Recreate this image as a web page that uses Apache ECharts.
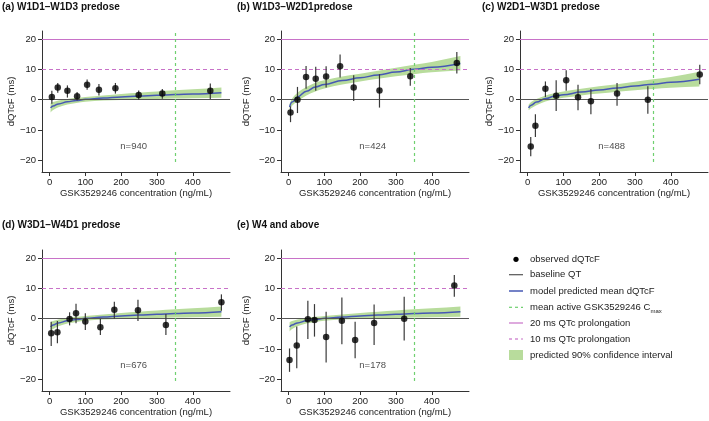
<!DOCTYPE html>
<html>
<head>
<meta charset="utf-8">
<script src="https://cdn.jsdelivr.net/npm/echarts@6/dist/echarts.min.js"></script>
<style>
  html, body { margin: 0; padding: 0; background: #fff; }
  #main { width: 709px; height: 421px; }
</style>
</head>
<body>
<div id="main"></div>
<script>
// titles / labels
var panelTitles = ['(a) W1D1–W1D3 predose', '(b) W1D3–W2D1predose', '(c) W2D1–W3D1 predose',
  '(d) W3D1–W4D1 predose', '(e) W4 and above'];
var nLabels = ['n=940', 'n=424', 'n=488', 'n=676', 'n=178'];
var xTicks = [0, 100, 200, 300, 400];
var yTicks = [-20, -10, 0, 10, 20];

// observed dQTcF (binned): concentration, mean, 90% CI low / high
var obsConcA = [6.5, 23, 50, 77, 105, 138, 184, 249, 315, 449];
var obsMeanA = [0.9, 4.0, 2.9, 1.1, 4.9, 3.3, 3.8, 1.5, 2.0, 2.9];
var obsLowA  = [-1.3, 2.3, 0.7, -0.3, 3.3, 1.4, 2.0, -0.1, 0.3, 0.1];
var obsHighA = [2.9, 5.5, 4.7, 2.5, 6.6, 5.2, 5.5, 3.0, 3.5, 5.3];

var obsConcB = [5.6, 25, 49, 76, 105, 144, 182, 254, 340, 470];
var obsMeanB = [-4.2, 0, 7.5, 6.9, 7.6, 11.0, 4.0, 3.0, 7.7, 12.1];
var obsLowB  = [-7.4, -4.4, 3.6, 2.9, 4.0, 7.3, -0.4, -2.6, 4.6, 8.6];
var obsHighB = [-2.2, 4.2, 11.1, 10.8, 11.0, 14.9, 8.0, 8.4, 10.4, 15.7];

var obsConcC = [9, 22, 50, 80, 108, 141, 177, 250, 336, 481];
var obsMeanC = [-15.4, -8.6, 3.6, 1.3, 6.4, 0.8, -0.5, 2.0, 0, 8.3];
var obsLowC  = [-18.6, -12.3, 0.9, -3.7, 2.9, -3.5, -4.8, -2.0, -4.6, 5.1];
var obsHighC = [-12.3, -4.8, 6.0, 6.4, 9.7, 4.9, 3.5, 5.5, 4.4, 11.5];

var obsConcD = [4.7, 22, 56, 74, 100, 142, 181, 247, 325, 480];
var obsMeanD = [-4.8, -4.5, -0.1, 1.8, -0.9, -2.8, 2.9, 2.8, -2.1, 5.4];
var obsLowD  = [-9.0, -8.1, -2.2, -1.5, -3.7, -5.4, 0, -0.8, -5.4, 2.6];
var obsHighD = [-1.0, -0.8, 2.1, 4.9, 1.8, -0.1, 5.6, 6.2, 1.5, 8.0];

var obsConcE = [2.8, 23, 54, 72.5, 105, 149, 186, 239, 323, 463];
var obsMeanE = [-13.6, -8.8, -0.2, -0.4, -6.0, -0.65, -7.0, -1.4, 0, 10.9];
var obsLowE  = [-17.5, -16.3, -6.7, -5.9, -14.4, -8.4, -13.0, -8.7, -7.2, 7.2];
var obsHighE = [-9.8, -2.6, 5.9, 4.8, 2.3, 7.0, -1.0, 4.7, 7.2, 14.4];

// model prediction (mean + 90% CI)
var predConc = [3, 10, 25, 50, 75, 100, 150, 200, 250, 300, 350, 400, 480];
// a, d and e show the same curve
var predMeanADE = [-2.7, -2.1, -1.4, -0.7, -0.25, 0.1, 0.55, 0.9, 1.2, 1.45, 1.7, 1.9, 2.3];
var predLowADE  = [-4.2, -3.4, -2.5, -1.6, -1.1, -0.7, -0.3, -0.1, 0.1, 0.2, 0.35, 0.45, 0.6];
var predHighADE = [-1.2, -0.8, -0.3, 0.2, 0.6, 0.9, 1.4, 1.9, 2.3, 2.7, 3.1, 3.4, 4.0];

var predMeanB = [-2.4, -0.8, 0.9, 2.8, 4.2, 5.0, 6.3, 7.2, 8.15, 9.1, 10.0, 10.7, 11.9];
var predLowB  = [-3.4, -2.0, -0.5, 1.4, 2.7, 3.7, 5.0, 6.0, 6.9, 7.7, 8.4, 9.0, 9.6];
var predHighB = [-1.4, 0.4, 2.3, 4.2, 5.6, 6.4, 7.6, 8.5, 9.5, 10.5, 11.5, 12.4, 14.4];

var predMeanC = [-2.7, -1.8, -0.8, 0.35, 1.1, 1.6, 2.5, 3.15, 3.85, 4.5, 5.1, 5.7, 6.7];
var predLowC  = [-3.5, -2.8, -1.8, -0.6, 0.1, 0.6, 1.4, 2.0, 2.6, 3.1, 3.5, 3.9, 4.3];
var predHighC = [-1.7, -0.8, 0.2, 1.4, 2.1, 2.7, 3.6, 4.4, 5.1, 5.9, 6.7, 7.5, 9.2];

var cmaxConc = 350; // mean active Cmax

var panels = [
  { obs: [obsConcA, obsMeanA, obsLowA, obsHighA], pred: [predMeanADE, predLowADE, predHighADE] },
  { obs: [obsConcB, obsMeanB, obsLowB, obsHighB], pred: [predMeanB, predLowB, predHighB] },
  { obs: [obsConcC, obsMeanC, obsLowC, obsHighC], pred: [predMeanC, predLowC, predHighC] },
  { obs: [obsConcD, obsMeanD, obsLowD, obsHighD], pred: [predMeanADE, predLowADE, predHighADE] },
  { obs: [obsConcE, obsMeanE, obsLowE, obsHighE], pred: [predMeanADE, predLowADE, predHighADE] }
];

var FONT = 'Liberation Sans, Arial, sans-serif';
var txt = '#222';
var magenta = '#c872c8';
var green = '#6fd06f';
var band = '#b8dc9c';
var blue = '#4658b4';

// layout of the 5 plot areas
var gridPos = [
  { left: 42, top: 31 }, { left: 281, top: 31 }, { left: 520, top: 31 },
  { left: 42, top: 250 }, { left: 281, top: 250 }
];
var titlePos = [[2, 2], [237, 2], [482, 2], [2, 220.5], [237, 220.5]];
var yNameGap = [22, 30, 24, 22, 30];

// smooth path through pixel points (cubic hermite, slopes from neighbours)
function curvePath(pts, move) {
  var n = pts.length, m = [];
  for (var k = 0; k < n; k++) {
    var a = pts[Math.max(k - 1, 0)], b = pts[Math.min(k + 1, n - 1)];
    m.push((b[1] - a[1]) / (b[0] - a[0]));
  }
  var d = (move ? 'M' : 'L') + pts[0][0] + ' ' + pts[0][1];
  for (k = 0; k < n - 1; k++) {
    var h = (pts[k + 1][0] - pts[k][0]) / 3;
    d += ' C' + (pts[k][0] + h) + ' ' + (pts[k][1] + m[k] * h) + ' ' +
      (pts[k + 1][0] - h) + ' ' + (pts[k + 1][1] - m[k + 1] * h) + ' ' +
      pts[k + 1][0] + ' ' + pts[k + 1][1];
  }
  return d;
}

var grids = [], xAxes = [], yAxes = [], series = [], titles = [];

panels.forEach(function (p, i) {
  grids.push({ left: gridPos[i].left, top: gridPos[i].top, width: 188, height: 141 });

  xAxes.push({
    type: 'value', gridIndex: i, min: -21, max: 504,
    name: 'GSK3529246 concentration (ng/mL)', nameLocation: 'middle', nameGap: 16,
    nameTextStyle: { fontSize: 9.5, color: txt, fontFamily: FONT },
    axisLine: { onZero: false, lineStyle: { color: '#333', width: 1 } },
    axisTick: { show: true, customValues: xTicks, length: 4, lineStyle: { color: '#333' } },
    axisLabel: { customValues: xTicks, fontSize: 9.5, color: txt, fontFamily: FONT, margin: 5 },
    splitLine: { show: false }
  });
  yAxes.push({
    type: 'value', gridIndex: i, min: -23.8, max: 22.6,
    name: 'dQTcF (ms)', nameLocation: 'middle', nameRotate: 90, nameGap: yNameGap[i],
    nameTextStyle: { fontSize: 9.5, color: txt, fontFamily: FONT },
    axisLine: { show: true, onZero: false, lineStyle: { color: '#333', width: 1 } },
    axisTick: { show: true, customValues: yTicks, length: 4, lineStyle: { color: '#333' } },
    axisLabel: {
      customValues: yTicks, fontSize: 9.5, color: txt, fontFamily: FONT, margin: 6,
      formatter: function (v) { return String(v).replace('-', '\u2212'); }
    },
    splitLine: { show: false }
  });

  titles.push({
    text: panelTitles[i], left: titlePos[i][0], top: titlePos[i][1], padding: 0,
    textStyle: { fontSize: 10, fontWeight: 'bold', color: '#111', fontFamily: FONT }
  });

  var conc = p.obs[0], mean = p.obs[1], lo = p.obs[2], hi = p.obs[3];
  var pm = p.pred[0], pl = p.pred[1], ph = p.pred[2];

  // 90% CI band as one filled shape
  series.push({
    type: 'custom', xAxisIndex: i, yAxisIndex: i, z: 1, silent: true,
    data: predConc.map(function (x, k) { return [x, pl[k], ph[k]]; }),
    encode: { x: 0, y: [1, 2] },
    renderItem: function (params, api) {
      if (params.dataIndex !== 0) return;
      var up = [], dn = [];
      for (var k = 0; k < predConc.length; k++) {
        up.push(api.coord([predConc[k], ph[k]]));
        dn.push(api.coord([predConc[k], pl[k]]));
      }
      var d = curvePath(up, true) + ' ' + curvePath(dn.reverse(), false) + ' Z';
      return { type: 'path', shape: { pathData: d }, style: { fill: band, stroke: null } };
    }
  });
  // model mean + reference lines
  series.push({
    type: 'line', xAxisIndex: i, yAxisIndex: i,
    data: predConc.map(function (x, k) { return [x, pm[k]]; }),
    symbol: 'none', smooth: 0.4, smoothMonotone: 'x',
    lineStyle: { color: blue, width: 1.5 }, silent: true, z: 3,
    markLine: {
      silent: true, symbol: ['none', 'none'], label: { show: false }, z: 4,
      data: [
        { yAxis: 0, lineStyle: { color: '#555', width: 1.2, type: 'solid' } },
        { yAxis: 20, lineStyle: { color: magenta, width: 1.2, type: 'solid' } },
        { yAxis: 10, lineStyle: { color: magenta, width: 1.2, type: [4, 3] } },
        [{ coord: [cmaxConc, -20.5], lineStyle: { color: green, width: 1.2, type: [3, 3] } },
         { coord: [cmaxConc, 22.6], lineStyle: { color: green, width: 1.2, type: [3, 3] } }]
      ]
    }
  });
  // error bars
  series.push({
    type: 'custom', xAxisIndex: i, yAxisIndex: i, z: 9, silent: true,
    data: conc.map(function (x, k) { return [x, lo[k], hi[k]]; }),
    encode: { x: 0, y: [1, 2] },
    renderItem: function (params, api) {
      var a = api.coord([api.value(0), api.value(1)]);
      var b = api.coord([api.value(0), api.value(2)]);
      return {
        type: 'line', shape: { x1: a[0], y1: a[1], x2: b[0], y2: b[1] },
        style: { stroke: '#3a3a3a', lineWidth: 1.2 }
      };
    }
  });
  // observed points
  series.push({
    type: 'scatter', xAxisIndex: i, yAxisIndex: i, z: 10, silent: true,
    data: conc.map(function (x, k) { return [x, mean[k]]; }),
    symbolSize: 6.5, itemStyle: { color: '#000' }
  });
  // n= label
  series.push({
    type: 'scatter', xAxisIndex: i, yAxisIndex: i, z: 10, silent: true,
    data: [[235, -15.5]], symbolSize: 1, itemStyle: { color: 'rgba(0,0,0,0)' },
    label: {
      show: true, position: 'inside', formatter: nLabels[i],
      fontSize: 9.5, color: txt, fontFamily: FONT
    }
  });
});

// legend, drawn by hand (bottom right)
var legX = 509, legTextX = 530;
var legRows = [259.3, 274.7, 291, 307.3, 323, 339, 355];
var legTexts = ['observed dQTcF', 'baseline QT', 'model predicted mean dQTcF',
  '{n|mean active GSK3529246 C}{s|max}', '20 ms QTc prolongation', '10 ms QTc prolongation',
  'predicted 90% confidence interval'];
var graphic = [
  { type: 'circle', shape: { cx: legX + 7, cy: legRows[0], r: 2.6 }, style: { fill: '#000' } },
  { type: 'line', shape: { x1: legX, y1: legRows[1], x2: legX + 14, y2: legRows[1] }, style: { stroke: '#555', lineWidth: 1.2 } },
  { type: 'line', shape: { x1: legX, y1: legRows[2], x2: legX + 14, y2: legRows[2] }, style: { stroke: blue, lineWidth: 1.5 } },
  { type: 'line', shape: { x1: legX, y1: legRows[3], x2: legX + 14, y2: legRows[3] }, style: { stroke: green, lineWidth: 1.2, lineDash: [3, 3] } },
  { type: 'line', shape: { x1: legX, y1: legRows[4], x2: legX + 14, y2: legRows[4] }, style: { stroke: magenta, lineWidth: 1.2 } },
  { type: 'line', shape: { x1: legX, y1: legRows[5], x2: legX + 14, y2: legRows[5] }, style: { stroke: magenta, lineWidth: 1.2, lineDash: [3, 3] } },
  { type: 'rect', shape: { x: legX, y: legRows[6] - 5, width: 14, height: 10 }, style: { fill: band } }
];
legTexts.forEach(function (t, k) {
  graphic.push({
    type: 'text', x: legTextX, y: legRows[k],
    style: {
      text: t, fill: txt, fontSize: 9.5, fontFamily: FONT, verticalAlign: 'middle',
      rich: {
        n: { fontSize: 9.5, fontFamily: FONT, fill: txt, lineHeight: 14 },
        s: { fontSize: 6, fontFamily: FONT, fill: txt, verticalAlign: 'bottom', lineHeight: 8 }
      }
    }
  });
});

var myChart = echarts.init(document.getElementById('main'));
var option = {
  animation: false,
  backgroundColor: '#fff',
  title: titles,
  grid: grids,
  xAxis: xAxes,
  yAxis: yAxes,
  series: series,
  graphic: graphic
};
myChart.setOption(option);
</script>
</body>
</html>
